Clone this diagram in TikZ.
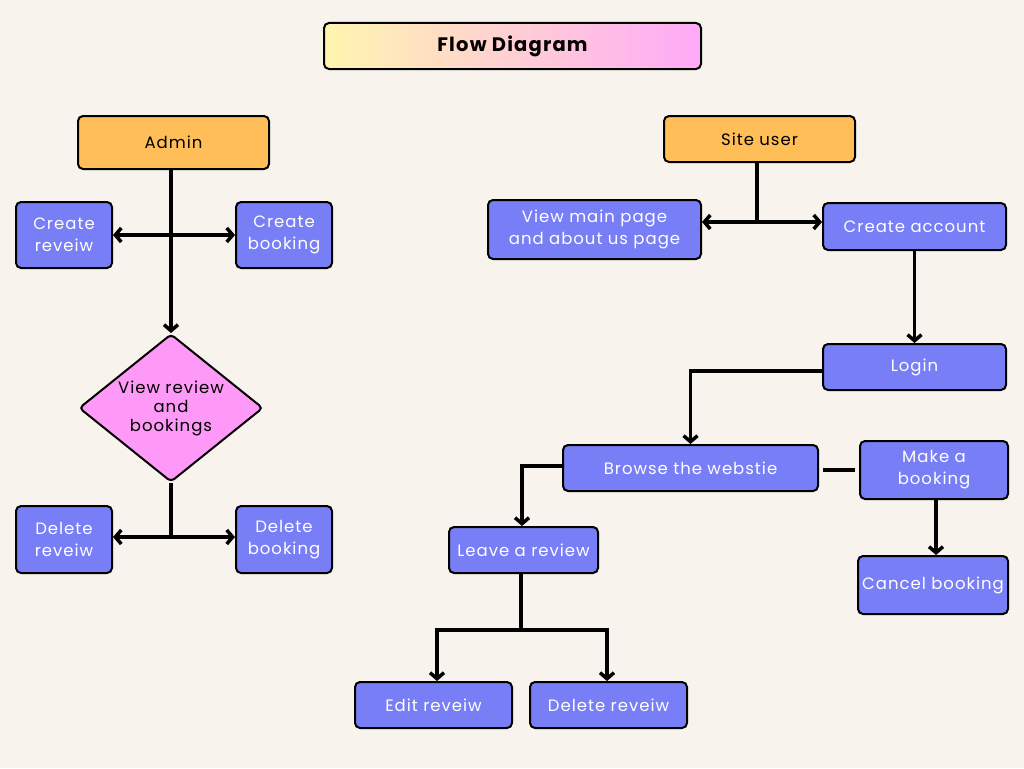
\documentclass[tikz,border=0pt]{standalone}
\usepackage{fontspec}
\setmainfont{Poppins}[LetterSpace=6]
\usetikzlibrary{arrows.meta,shapes.geometric,calc}
\definecolor{bg}{HTML}{F8F3EC}
\definecolor{boxblue}{HTML}{787EF5}
\definecolor{boxorange}{HTML}{FFBE58}
\definecolor{boxpink}{HTML}{FF99F7}
\definecolor{gradL}{HTML}{FFF5AE}
\definecolor{gradR}{HTML}{FFA9F9}
\tikzset{
  basebox/.style={draw=black, line width=2pt, rounded corners=5pt, inner sep=0pt, align=center,
    font=\fontsize{16.5}{22}\selectfont},
  bluebox/.style={basebox, fill=boxblue, text=white},
  orangebox/.style={basebox, fill=boxorange, text=black},
  ln/.style={line width=3.5pt, draw=black, line join=miter},
  arr/.style={ln, -{Straight Barb[length=6pt,width=14pt,line width=3.5pt]}},
  darr/.style={ln, {Straight Barb[length=6pt,width=14pt,line width=3.5pt]}-{Straight Barb[length=6pt,width=14pt,line width=3.5pt]}},
}
\begin{document}
\begin{tikzpicture}[x=1pt,y=-1pt]
\fill[bg] (0,0) rectangle (1024,768);
\useasboundingbox (0,0) rectangle (1024,768);

% title
\node[basebox, left color=gradL, right color=gradR, minimum width=377pt, minimum height=46pt,
  font=\fontsize{19.5}{22}\bfseries\selectfont] (title) at (512.5,46) {Flow Diagram};

% admin side
\node[orangebox, minimum width=191pt, minimum height=53pt] (admin) at (173.5,142.5) {Admin};
\node[bluebox, minimum width=96pt, minimum height=66pt] (crrev) at (64,235) {Create\\reveiw};
\node[bluebox, minimum width=96pt, minimum height=66pt] (crbook) at (284,235) {Create\\booking};
\node[diamond, draw=black, line width=2pt, fill=boxpink, rounded corners=4pt, inner sep=0pt,
  aspect=1.243, minimum width=184pt, minimum height=148pt, align=center,
  font=\fontsize{16.5}{19}\selectfont] (view) at (171,408) {View review\\and\\bookings};
\node[bluebox, minimum width=96pt, minimum height=67pt] (delrev) at (64,539.5) {Delete\\reveiw};
\node[bluebox, minimum width=96pt, minimum height=67pt] (delbook) at (284,539.5) {Delete\\booking};

% site user side
\node[orangebox, minimum width=191pt, minimum height=46pt] (site) at (759.5,139) {Site user};
\node[bluebox, minimum width=213pt, minimum height=59pt] (viewmain) at (594.5,229.5) {View main page\\and about us page};
\node[bluebox, minimum width=183pt, minimum height=47pt] (createacc) at (914.5,226.5) {Create account};
\node[bluebox, minimum width=183pt, minimum height=46pt] (login) at (914.5,367) {Login};
\node[bluebox, minimum width=255pt, minimum height=46pt] (browse) at (690.5,468) {Browse the webstie};
\node[bluebox, minimum width=148pt, minimum height=58pt] (make) at (934,470) {Make a\\booking};
\node[bluebox, minimum width=149pt, minimum height=46pt] (leave) at (523.5,550) {Leave a review};
\node[bluebox, minimum width=150pt, minimum height=58pt] (cancel) at (933,585) {Cancel booking};
\node[bluebox, minimum width=157pt, minimum height=46pt] (edit) at (433.5,705) {Edit reveiw};
\node[bluebox, minimum width=157pt, minimum height=46pt] (delrev2) at (608.5,705) {Delete reveiw};

% admin connectors
\draw[arr] (view.north |- admin.south) -- (view.north);
\draw[darr] (crrev.east) -- (crbook.west);
\coordinate (j1) at (171,537);
\draw[ln] (view.south) -- (j1);
\draw[darr] (delrev.east |- j1) -- (delbook.west |- j1);

% site user connectors
\coordinate (j2) at (757,222);
\draw[ln] (j2 |- site.south) -- (j2);
\draw[darr] (viewmain.east |- j2) -- (createacc.west |- j2);
\draw[arr] (createacc.south) -- (login.north);
\draw[arr] ([yshift=-4pt]login.west) -| (browse.north);
\draw[arr] ([yshift=2pt]browse.west) -| ([xshift=-1.5pt]leave.north);
\draw[ln] ([xshift=4pt,yshift=-2pt]browse.east) -- ([xshift=-4pt]make.west);
\draw[arr] ([xshift=2pt]make.south) -- ([xshift=2pt]make.south |- cancel.north);
\coordinate (j3) at (521,630);
\draw[ln] (j3 |- leave.south) -- (j3);
\draw[darr] ([xshift=3.5pt]edit.north) |- (j3) -| ([xshift=-1.5pt]delrev2.north);
\end{tikzpicture}
\end{document}
